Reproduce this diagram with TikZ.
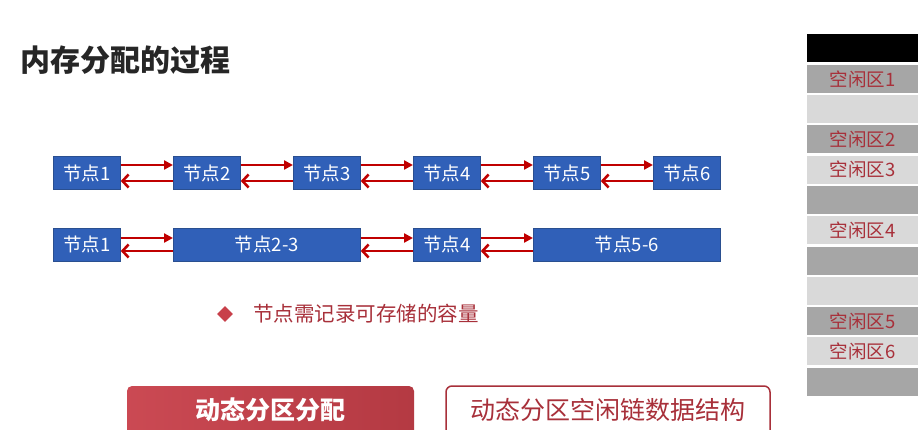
\documentclass[tikz,border=0pt]{standalone}
\usepackage{fontspec}
\setmainfont{Noto Sans CJK SC}
\usetikzlibrary{arrows.meta,shapes.geometric}
\definecolor{nodeblue}{HTML}{3060B8}
\definecolor{nodeborder}{HTML}{2A4F90}
\definecolor{arrred}{HTML}{C00000}
\definecolor{darkred}{HTML}{A8303A}
\definecolor{memdark}{HTML}{A6A6A6}
\definecolor{memlight}{HTML}{D9D9D9}
\definecolor{btnred}{HTML}{C8404A}
\tikzset{
  lnode/.style={draw=nodeborder, line width=0.8pt, fill=nodeblue, text=white, minimum height=33pt, inner sep=0pt, anchor=west, font=\fontsize{18.5}{18.5}\selectfont},
  fwd/.style={arrred, line width=2.4pt, -{Triangle[length=9pt,width=9pt]}},
  bwd/.style={arrred, line width=2.4pt, -{Straight Barb[length=6pt,width=13pt,line width=2.6pt]}},
  memcell/.style={draw=white, line width=1pt, minimum width=112pt, minimum height=29pt, inner sep=0pt, text=darkred, font=\fontsize{18.5}{18.5}\selectfont},
}
\begin{document}
\begin{tikzpicture}[x=1pt,y=-1pt]
\useasboundingbox (0,0) rectangle (922,429);
\fill[white] (0,0) rectangle (922,429);
% title
\node[anchor=west, inner sep=0pt, font=\fontsize{30}{30}\selectfont\bfseries, text=black!85] (title) at (20,60) {内存分配的过程};
% row 1
\node[lnode, minimum width=67pt] (a1) at (53,173) {节点1};
\node[lnode, minimum width=67pt] (a2) at (173,173) {节点2};
\node[lnode, minimum width=67pt] (a3) at (293,173) {节点3};
\node[lnode, minimum width=67pt] (a4) at (413,173) {节点4};
\node[lnode, minimum width=67pt] (a5) at (533,173) {节点5};
\node[lnode, minimum width=67pt] (a6) at (653,173) {节点6};
\foreach \i/\j in {a1/a2,a2/a3,a3/a4,a4/a5,a5/a6}{
  \draw[fwd] ([yshift=8pt]\i.east) -- ([yshift=8pt]\j.west);
  \draw[bwd] ([yshift=-8pt]\j.west) -- ([yshift=-8pt]\i.east);
}
% row 2
\node[lnode, minimum width=67pt] (b1) at (53,244.5) {节点1};
\node[lnode, minimum width=187pt] (b23) at (173,244.5) {节点2-3};
\node[lnode, minimum width=67pt] (b4) at (413,244.5) {节点4};
\node[lnode, minimum width=187pt] (b56) at (533,244.5) {节点5-6};
\foreach \i/\j in {b1/b23,b23/b4,b4/b56}{
  \draw[fwd] ([yshift=6.5pt]\i.east) -- ([yshift=6.5pt]\j.west);
  \draw[bwd] ([yshift=-6.5pt]\j.west) -- ([yshift=-6.5pt]\i.east);
}
% bullet
\node[diamond, fill=btnred, minimum width=16pt, minimum height=16pt, inner sep=0pt] (dia) at (225,314) {};
\node[anchor=west, inner sep=0pt, text=darkred, font=\fontsize{20.5}{20.5}\selectfont] (bul) at (253,314) {节点需记录可存储的容量};
% memory column
\node[memcell, fill=black] (m0) at (862.5,48) {};
\node[memcell, fill=memdark] (m1) at (862.5,79) {空闲区1};
\node[memcell, fill=memlight] (m2) at (862.5,109) {};
\node[memcell, fill=memdark] (m3) at (862.5,139) {空闲区2};
\node[memcell, fill=memlight] (m4) at (862.5,169.5) {空闲区3};
\node[memcell, fill=memdark] (m5) at (862.5,200) {};
\node[memcell, fill=memlight] (m6) at (862.5,230) {空闲区4};
\node[memcell, fill=memdark] (m7) at (862.5,260.5) {};
\node[memcell, fill=memlight] (m8) at (862.5,291) {};
\node[memcell, fill=memdark] (m9) at (862.5,321) {空闲区5};
\node[memcell, fill=memlight] (m10) at (862.5,351) {空闲区6};
\node[memcell, fill=memdark] (m11) at (862.5,381.5) {};
% buttons
\shade[left color=btnred!95!white, right color=btnred!90!black, rounded corners=5pt] (127,386) rectangle (414,440);
\node[text=white, font=\fontsize{25}{25}\selectfont\bfseries, inner sep=0pt] (btn1) at (270.5,410) {动态分区分配};
\draw[darkred, line width=1.5pt, rounded corners=6pt] (446,386) rectangle (770,440);
\node[text=darkred, font=\fontsize{25}{25}\selectfont, inner sep=0pt] (btn2) at (608,410) {动态分区空闲链数据结构};
\end{tikzpicture}
\end{document}
